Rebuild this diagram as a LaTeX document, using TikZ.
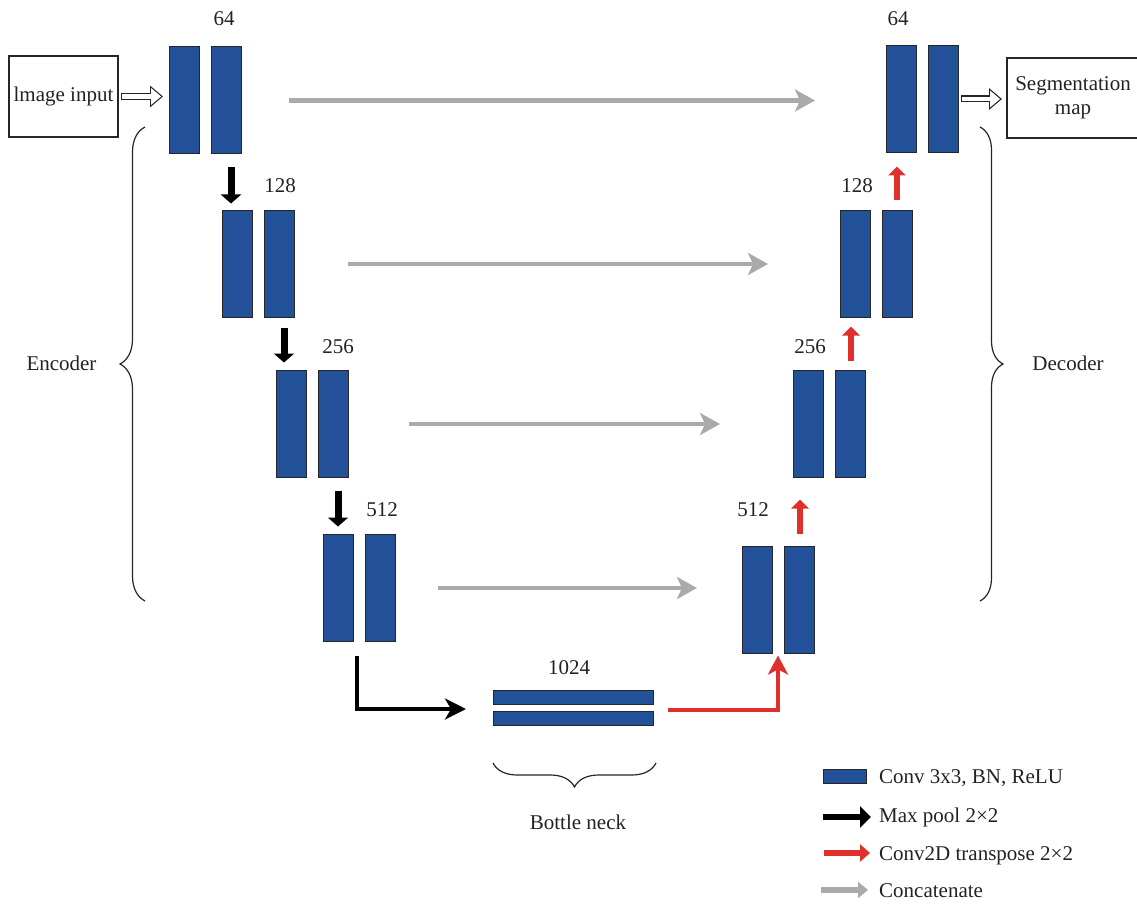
\documentclass[tikz,border=0pt]{standalone}
\usepackage{fontspec}
\setmainfont{Liberation Serif}
\usetikzlibrary{arrows.meta,decorations.pathreplacing,calc}
\definecolor{blkblue}{RGB}{35,81,153}
\definecolor{catgray}{RGB}{170,170,172}
\definecolor{upred}{RGB}{224,48,44}
\definecolor{txt}{RGB}{34,34,34}
\begin{document}
\begin{tikzpicture}[x=1pt,y=-1pt,
  every node/.style={font=\fontsize{21}{24}\selectfont, text=txt},
  block/.style={draw=black!85, line width=1pt, fill=blkblue, minimum width=30pt, minimum height=107pt, inner sep=0pt, outer sep=0pt},
  hblock/.style={block, minimum width=160pt, minimum height=14pt},
  lbl/.style={inner sep=0pt},
  box/.style={draw=black!85, line width=1.2pt, inner sep=0pt, outer sep=0pt},
  cat/.style={draw=catgray, line width=4.3pt, -{Stealth[length=20pt,width=22pt,inset=5pt]}},
  pool/.style={draw=black, line width=7pt, -{Triangle[length=9pt,width=20pt]}},
  up/.style={draw=upred, line width=6pt, -{Triangle[length=9pt,width=17pt]}},
  elbowK/.style={draw=black, line width=4pt, -{Stealth[length=21pt,width=21pt,inset=6pt]}},
  elbowR/.style={draw=upred, line width=3.5pt, -{Stealth[length=19pt,width=20pt,inset=5pt]}},
  hollowO/.style={draw=black!85, line width=7pt, -{Triangle[length=13pt,width=21pt]}},
  hollowI/.style={draw=white, line width=4.6pt, -{Triangle[length=9.9pt,width=16pt]}},
  brc/.style={draw=black!85, line width=1.2pt, decorate},
]
\useasboundingbox (0,0) rectangle (1137,904);

% input / output boxes
\node[box, minimum width=109pt, minimum height=81pt] (in) at (63.5,96.5) {lmage input};
\node[box, minimum width=132pt, minimum height=80pt, align=center] (out) at (1073,98) {\raisebox{-2pt}{Segmentation}\\\raisebox{-2pt}{map}};

% encoder
\node[block] (e1a) at (184,100.5) {};
\node[block] (e1b) at (226,100.5) {};
\node[block] (e2a) at (237,264) {};
\node[block] (e2b) at (279,264) {};
\node[block] (e3a) at (291,424) {};
\node[block] (e3b) at (333,424) {};
\node[block] (e4a) at (338,588) {};
\node[block] (e4b) at (380,588) {};
% decoder
\node[block] (d1a) at (901,99) {};
\node[block] (d1b) at (943,99) {};
\node[block] (d2a) at (855,264) {};
\node[block] (d2b) at (897,264) {};
\node[block] (d3a) at (808,424) {};
\node[block] (d3b) at (850,424) {};
\node[block] (d4a) at (757,600) {};
\node[block] (d4b) at (799,600) {};
% bottleneck
\node[hblock] (bn1) at (573,697) {};
\node[hblock] (bn2) at (573,718) {};

% labels
\node[lbl] (l64e) at (224,19) {64};
\node[lbl] (l128e) at (280,186) {128};
\node[lbl] (l256e) at (338,347) {256};
\node[lbl] (l512e) at (382,510) {512};
\node[lbl] (l1024) at (569,668) {1024};
\node[lbl] (l64d) at (898,19) {64};
\node[lbl] (l128d) at (857,186) {128};
\node[lbl] (l256d) at (810,347) {256};
\node[lbl] (l512d) at (753,510) {512};

% hollow arrows
\draw[hollowO, shorten <=3pt, shorten >=6pt] (in.east) -- (in.east -| e1a.west);
\draw[hollowI, shorten <=4.2pt, shorten >=7.9pt] (in.east) -- (in.east -| e1a.west);
\draw[hollowO, shorten <=3pt, shorten >=5pt] (d1b.east) -- (d1b.east -| out.west);
\draw[hollowI, shorten <=4.2pt, shorten >=6.9pt] (d1b.east) -- (d1b.east -| out.west);

% concatenate
\draw[cat, shorten <=48pt, shorten >=71pt] (e1b.east) -- (e1b.east -| d1a.west);
\draw[cat, shorten <=54pt, shorten >=72pt] (e2b.east) -- (e2b.east -| d2a.west);
\draw[cat, shorten <=61pt, shorten >=73pt] (e3b.east) -- (e3b.east -| d3a.west);
\draw[cat, shorten <=43pt, shorten >=45pt] (e4b.east) -- (e4b.east -| d4a.west);

% max pool
\draw[pool] ([shift={(-6,-43)}]e2a.north) -- ([shift={(-6,-7)}]e2a.north);
\draw[pool] ([shift={(-7,-43)}]e3a.north) -- ([shift={(-7,-8)}]e3a.north);
\draw[pool] ([shift={(0,-44)}]e4a.north) -- ([shift={(0,-8)}]e4a.north);

% up conv
\draw[up] ([shift={(0,-10)}]d2b.north) -- ([shift={(0,-44)}]d2b.north);
\draw[up] ([shift={(1,-10)}]d3b.north) -- ([shift={(1,-44)}]d3b.north);
\draw[up] ([shift={(1,-13)}]d4b.north) -- ([shift={(1,-47)}]d4b.north);

% elbows
\draw[elbowK] ([shift={(19,14)}]e4a.south) |- ($(bn1.west)!0.5!(bn2.west)+(-27,1.5)$);
\draw[elbowR] ($(bn1.east)!0.5!(bn2.east)+(15,2.5)$) -| ([shift={(21,2)}]d4a.south);

% braces
\draw[brc, decoration={brace, amplitude=25pt}] (145,601) -- (145,127);
\node[lbl] (enc) at (61.5,363) {Encoder};
\draw[brc, decoration={brace, amplitude=23pt}] (980,127) -- (980,601);
\node[lbl] (dec) at (1068,363) {Decoder};
\draw[brc, decoration={brace, amplitude=24pt}] (656,763) -- (493,763);
\node[lbl] (bneck) at (578,822) {Bottle neck};

% legend
\node[block, minimum width=43pt, minimum height=14pt] (lg1) at (844.5,776) {};
\node[lbl, anchor=base west] (lt1) at (879,783) {Conv 3x3, BN, ReLU};
\coordinate (lk1) at (823,817); \coordinate (lk2) at (871,817);
\draw[pool, line width=6.5pt, -{Triangle[length=11pt,width=21pt]}] (lk1) -- (lk2);
\node[lbl, anchor=base west] (lt2) at (879,822) {Max pool 2×2};
\coordinate (lr1) at (824,853); \coordinate (lr2) at (870,853);
\draw[up, line width=6.5pt, -{Triangle[length=10pt,width=17pt]}] (lr1) -- (lr2);
\node[lbl, anchor=base west] (lt3) at (879,860) {Conv2D transpose 2×2};
\coordinate (lg1a) at (821,890); \coordinate (lg2a) at (868,890);
\draw[draw=catgray, line width=6.5pt, -{Triangle[length=10pt,width=16pt]}] (lg1a) -- (lg2a);
\node[lbl, anchor=base west] (lt4) at (879,897) {Concatenate};
\end{tikzpicture}
\end{document}
